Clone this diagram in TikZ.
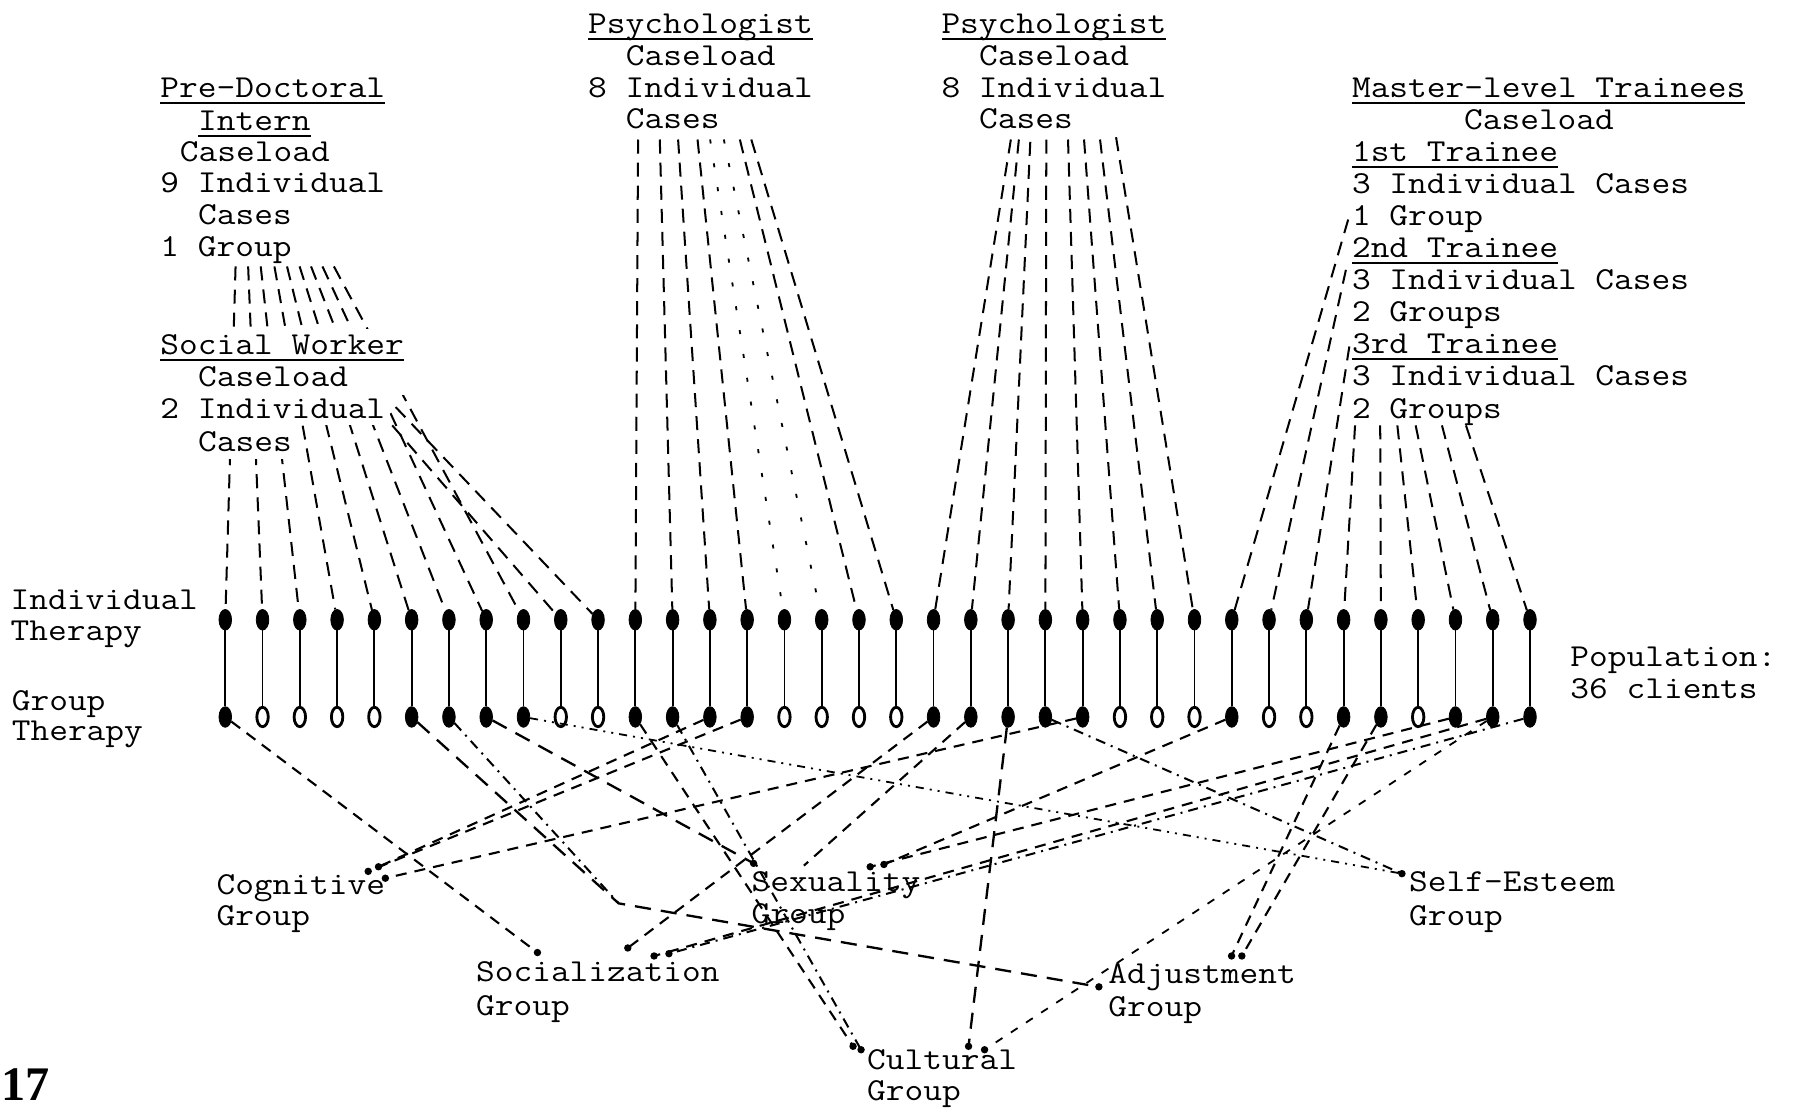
\documentclass[tikz,border=0pt]{standalone}
\usepackage{fontspec}
\usepackage{graphicx}
\newfontfamily\pnfont{Liberation Serif}
\usetikzlibrary{shapes.geometric}
\newcommand\tw{\ttfamily\fontsize{18.1}{18}\selectfont}
\newcommand\ul[1]{\setbox0\hbox{#1}\rlap{\rule[-3.8pt]{\wd0}{1.2pt}}\box0}
\newcommand\tx[1]{\scalebox{1}[0.88]{#1}}
\begin{document}
\begin{tikzpicture}[x=0.02cm,y=-0.02cm,
  txt/.style={font=\tw, inner sep=0pt, anchor=base west},
  topdot/.style={ellipse, fill=black, draw=black, line width=0.4pt, minimum width=0.22cm, minimum height=0.36cm, inner sep=0pt},
  dot1/.style={topdot},
  dot0/.style={ellipse, draw=black, fill=white, line width=1.4pt, minimum width=0.2cm, minimum height=0.34cm, inner sep=0pt},
  stem/.style={line width=0.9pt},
  link/.style={line width=1pt, dash pattern=on 7pt off 4.5pt},
  sparse/.style={line width=0.9pt, dash pattern=on 2pt off 10pt},
  glink/.style={line width=1.05pt, dash pattern=on 5.5pt off 4pt},
  glong/.style={line width=1.15pt, dash pattern=on 8pt off 5pt},
  gdot/.style={line width=1pt, dash pattern=on 5pt off 3pt on 1pt off 3pt},
  gdd/.style={line width=0.9pt, dash pattern=on 4pt off 3pt on 1pt off 3pt on 1pt off 3pt},
  gloose/.style={line width=0.9pt, dash pattern=on 4pt off 5pt},
  enddot/.style={fill=black}]
\fill[white] (0,0) rectangle (1568,969);
\useasboundingbox (0,0) rectangle (1568,969);

% ---------- client nodes ----------
\foreach \i/\f in {1/1,2/0,3/0,4/0,5/0,6/1,7/1,8/1,9/1,10/0,11/0,12/1,13/1,14/1,15/1,16/0,17/0,18/0,19/0,20/1,21/1,22/1,23/1,24/1,25/0,26/0,27/0,28/1,29/0,30/0,31/1,32/1,33/0,34/1,35/1,36/1}{
  \node[topdot] (t\i) at ({197+(\i-1)*32.6},542) {};
  \node[dot\f] (b\i) at ({197+(\i-1)*32.6},627) {};
  \draw[stem] (t\i) -- (b\i);
}

% ---------- intern lines (behind social worker block) ----------
\coordinate (i1) at (206,233);
\coordinate (i2) at (217,233);
\coordinate (i3) at (228,233);
\coordinate (i4) at (240,233);
\coordinate (i5) at (251,233);
\coordinate (i6) at (262,233);
\coordinate (i7) at (272,233);
\coordinate (i8) at (282,233);
\coordinate (i9) at (292,233);
\foreach \k in {1,...,9}{ \draw[link] (i\k) -- (t\k); }

% mask behind social worker text
\fill[white] (138,288) rectangle (357,345);
\fill[white] (138,345) rectangle (341,372);
\fill[white] (138,372) rectangle (262,401);

% social worker lines
\coordinate (swA) at (343,372);
\coordinate (swB) at (346,356);
\draw[link] (swA) -- (t10);
\draw[link] (swB) -- (t11);

% psychologist 1 lines
\coordinate (pa-s12) at (558,122);
\coordinate (pa-s13) at (577,122);
\coordinate (pa-s14) at (593,122);
\coordinate (pa-s15) at (610,122);
\coordinate (pa-s16) at (621,122);
\coordinate (pa-s17) at (633,122);
\coordinate (pa-s18) at (647,122);
\coordinate (pa-s19) at (657,122);
\foreach \k in {12,13,14,15,18,19}{ \draw[link] (pa-s\k) -- (t\k); }
\draw[sparse] (pa-s16) -- (t16);
\draw[sparse] (pa-s17) -- (t17);

% psychologist 2 lines
\coordinate (pb-s20) at (884,122);
\coordinate (pb-s21) at (891,122);
\coordinate (pb-s22) at (901,124);
\coordinate (pb-s23) at (915,122);
\coordinate (pb-s24) at (934,122);
\coordinate (pb-s25) at (948,122);
\coordinate (pb-s26) at (962,122);
\coordinate (pb-s27) at (976,120);
\foreach \k in {20,...,27}{ \draw[link] (pb-s\k) -- (t\k); }

% trainee lines
\coordinate (tr-s28) at (1179,192);
\coordinate (tr-s29) at (1177,236);
\coordinate (tr-s30) at (1180,303);
\coordinate (tr-s31) at (1185,372);
\coordinate (tr-s32) at (1207,372);
\coordinate (tr-s33) at (1222,372);
\coordinate (tr-s34) at (1238,372);
\coordinate (tr-s35) at (1261,372);
\coordinate (tr-s36) at (1282,372);
\foreach \k in {28,...,36}{ \draw[link] (tr-s\k) -- (t\k); }

% ---------- group end points ----------
\coordinate (Cg1) at (322,762);
\coordinate (Cg2) at (331,758);
\coordinate (Cg3) at (337,768);
\coordinate (Sx0) at (659,755);
\coordinate (Sx1) at (761,758);
\coordinate (Sx2) at (773,756);
\coordinate (Sx3) at (703,757);
\coordinate (SE) at (1226,764);
\coordinate (So1) at (470,833);
\coordinate (So2) at (549,829);
\coordinate (So3) at (572,836);
\coordinate (So4) at (585,834);
\coordinate (Ad1) at (961,863);
\coordinate (Ad2) at (1077,836);
\coordinate (Ad3) at (1086,836);
\coordinate (Cu1) at (746,915);
\coordinate (Cu2) at (753,918);
\coordinate (Cu3) at (847,915);
\coordinate (Cu4) at (861,918);
\coordinate (K) at (541,790);

% ---------- group lines ----------
\draw[glink] (b1) -- (So1);
\draw[glong] (b6) -- (K) -- (Ad1);
\draw[gdot] (b7) -- (K);
\draw[glong] (b8) -- (Sx0);
\draw[gdd] (b9) -- (SE);
\draw[glink] (b12) -- (Cu1);
\draw[gdot] (b13) -- (Cu2);
\draw[glink] (b14) -- (Cg2);
\draw[glink] (b15) -- (Cg1);
\draw[glink] (b20) -- (So2);
\draw[glink] (b21) -- (Sx3);
\draw[glong] (b22) -- (Cu3);
\draw[gdot] (b23) -- (SE);
\draw[glink] (b24) -- (Cg3);
\draw[glink] (b28) -- (Sx2);
\draw[glink] (b31) -- (Ad2);
\draw[glink] (b32) -- (Ad3);
\draw[glink] (b34) -- (Sx1);
\draw[gloose] (b35) -- (Cu4);
\draw[glink] (b35) -- (So3);
\draw[gdot] (b36) -- (So4);

\foreach \p in {Cg1,Cg2,Cg3,Sx0,Sx1,Sx2,SE,So1,So2,So3,So4,Ad1,Ad2,Ad3,Cu1,Cu2,Cu3,Cu4}{
  \fill[enddot] (\p) circle[radius=0.065cm];
}

% ---------- texts ----------
\node[txt] (pd1) at (140,85) {\tx{\ul{Pre-Doctoral}}};
\node[txt] (pd2) at (173,114) {\tx{\ul{Intern}}};
\node[txt] (pd3) at (157,141) {\tx{Caseload}};
\node[txt] (pd4) at (140,168) {\tx{9 Individual}};
\node[txt] (pd5) at (173,196) {\tx{Cases}};
\node[txt] (pd6) at (140,224) {\tx{1 Group}};

\node[txt] (sw1) at (140,310) {\tx{\ul{Social Worker}}};
\node[txt] (sw2) at (173,338) {\tx{Caseload}};
\node[txt] (sw3) at (140,366) {\tx{2 Individual}};
\node[txt] (sw4) at (173,395) {\tx{Cases}};

\node[txt] (pa1) at (514,29) {\tx{\ul{Psychologist}}};
\node[txt] (pa2) at (547,57) {\tx{Caseload}};
\node[txt] (pa3) at (514,85) {\tx{8 Individual}};
\node[txt] (pa4) at (547,112) {\tx{Cases}};

\node[txt] (pb1) at (823,29) {\tx{\ul{Psychologist}}};
\node[txt] (pb2) at (856,57) {\tx{Caseload}};
\node[txt] (pb3) at (823,85) {\tx{8 Individual}};
\node[txt] (pb4) at (856,112) {\tx{Cases}};

\node[txt] (m1) at (1182,85) {\tx{\ul{Master-level Trainees}}};
\node[txt] (m2) at (1280,113) {\tx{Caseload}};
\node[txt] (m3) at (1182,141) {\tx{\ul{1st Trainee}}};
\node[txt] (m4) at (1182,169) {\tx{3 Individual Cases}};
\node[txt] (m5) at (1182,197) {\tx{1 Group}};
\node[txt] (m6) at (1182,225) {\tx{\ul{2nd Trainee}}};
\node[txt] (m7) at (1182,253) {\tx{3 Individual Cases}};
\node[txt] (m8) at (1182,281) {\tx{2 Groups}};
\node[txt] (m9) at (1182,309) {\tx{\ul{3rd Trainee}}};
\node[txt] (m10) at (1182,337) {\tx{3 Individual Cases}};
\node[txt] (m11) at (1182,366) {\tx{2 Groups}};

\node[txt] (ri1) at (9,533) {\tx{Individual}};
\node[txt] (ri2) at (9,560) {\tx{Therapy}};
\node[txt] (rg1) at (10,621) {\tx{Group}};
\node[txt] (rg2) at (10,648) {\tx{Therapy}};

\node[txt] (pop1) at (1373,583) {\tx{Population:}};
\node[txt] (pop2) at (1373,611) {\tx{36 clients}};

\node[txt] (cg1) at (189,782) {\tx{Cognitive}};
\node[txt] (cg2) at (189,809) {\tx{Group}};
\node[txt] (sx1) at (657,780) {\tx{Sexuality}};
\node[txt] (sx2) at (657,808) {\tx{Group}};
\node[txt] (se1) at (1232,780) {\tx{Self-Esteem}};
\node[txt] (se2) at (1232,809) {\tx{Group}};
\node[txt] (so1) at (416,858) {\tx{Socialization}};
\node[txt] (so2) at (416,888) {\tx{Group}};
\node[txt] (ad1) at (969,860) {\tx{Adjustment}};
\node[txt] (ad2) at (969,889) {\tx{Group}};
\node[txt] (cu1) at (758,935) {\tx{Cultural}};
\node[txt] (cu2) at (758,962) {\tx{Group}};

\node[inner sep=0pt, anchor=base west, text depth=0pt, font=\pnfont\bfseries\fontsize{24}{24}\selectfont] (pg) at (1,962) {17};
\end{tikzpicture}
\end{document}
